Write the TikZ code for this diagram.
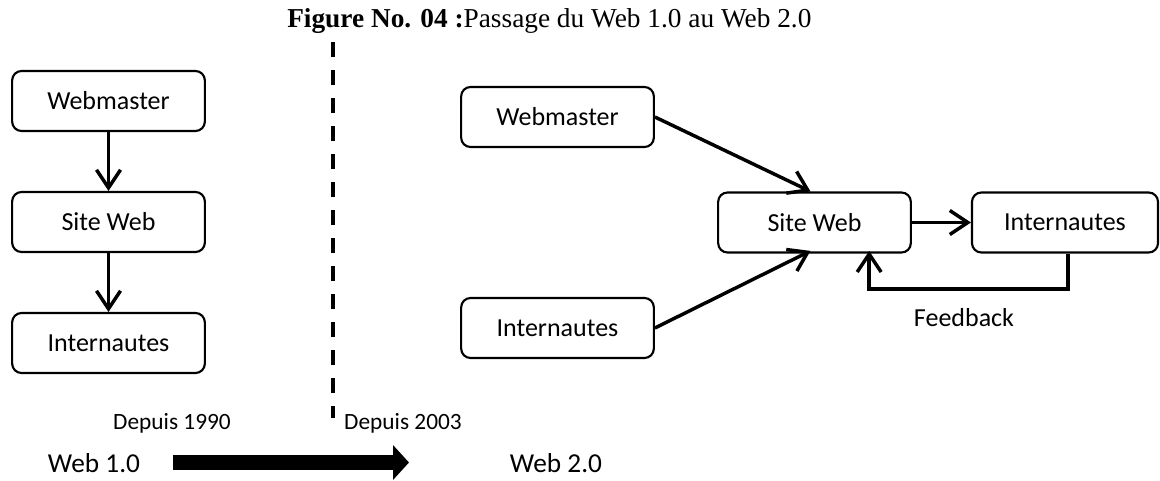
\documentclass[tikz,border=0pt]{standalone}
\usepackage{fontspec}
\setmainfont{Liberation Serif}
\newfontfamily\calib{Carlito}
\usetikzlibrary{arrows.meta}
\tikzset{
  box/.style={draw, line width=1.6pt, rounded corners=7pt, minimum width=144.5pt, minimum height=45pt, inner sep=0pt, font=\calib\fontsize{19.5}{22}\selectfont},
  conn/.style={line width=2.6pt, -{Straight Barb[length=13.5pt,width=18pt,line width=2.6pt]}},
  lbl/.style={inner sep=0pt, font=\calib\fontsize{17.5}{20}\selectfont},
  biglbl/.style={inner sep=0pt, font=\calib\fontsize{20.5}{23}\selectfont},
  bigarrow/.style={line width=11.25pt, -{Triangle[length=12pt,width=25.5pt]}},
  sep/.style={line width=2.8pt, dash pattern=on 11.25pt off 9.75pt}
}
\begin{document}
\begin{tikzpicture}[x=0.75pt,y=-0.75pt]
\useasboundingbox (0,0) rectangle (1160,481);
\node[anchor=base west, inner sep=0pt, font=\fontsize{20.5}{24}\selectfont] (title) at (287,28) {\textbf{Figure No. 04 :}Passage du Web 1.0 au Web 2.0};
% separator
\coordinate (s1) at (333,42);
\coordinate (s2) at (333,418);
\draw[sep] (s1) -- (s2);
% left
\node[box] (wm1) at (108.5,101) {Webmaster};
\node[box] (sw1) at (108.5,222) {Site Web};
\node[box] (in1) at (108.5,343) {Internautes};
\draw[conn] (wm1) -- (sw1);
\draw[conn] (sw1) -- (in1);
% right
\node[box] (wm2) at (557.5,117) {Webmaster};
\node[box] (in3) at (557.5,328) {Internautes};
\node[box] (sw2) at (814.5,222.5) {Site Web};
\node[box, minimum width=139.5pt] (in2) at (1065,222.5) {Internautes};
\draw[conn] (wm2.east) -- ([xshift=-3]sw2.north);
\draw[conn] (in3.east) -- ([xshift=-3,yshift=2]sw2.south);
\draw[conn] (sw2.east) -- (in2.west);
\coordinate (fb) at (1068,289);
\draw[conn] (in2.south -| fb) -- (fb) -| ([xshift=41,yshift=2]sw2.south);
\node[lbl, font=\calib\fontsize{19.5}{22}\selectfont] (fbl) at (964,318) {Feedback};
% bottom
\node[lbl] (d1) at (172,423) {Depuis 1990};
\node[lbl] (d2) at (403,423) {Depuis 2003};
\node[biglbl] (w1) at (94,463) {Web 1.0};
\node[biglbl] (w2) at (556,463) {Web 2.0};
\coordinate (ba) at (173,462.5);
\coordinate (bb) at (409,462.5);
\draw[bigarrow] (ba) -- (bb);
\end{tikzpicture}
\end{document}
